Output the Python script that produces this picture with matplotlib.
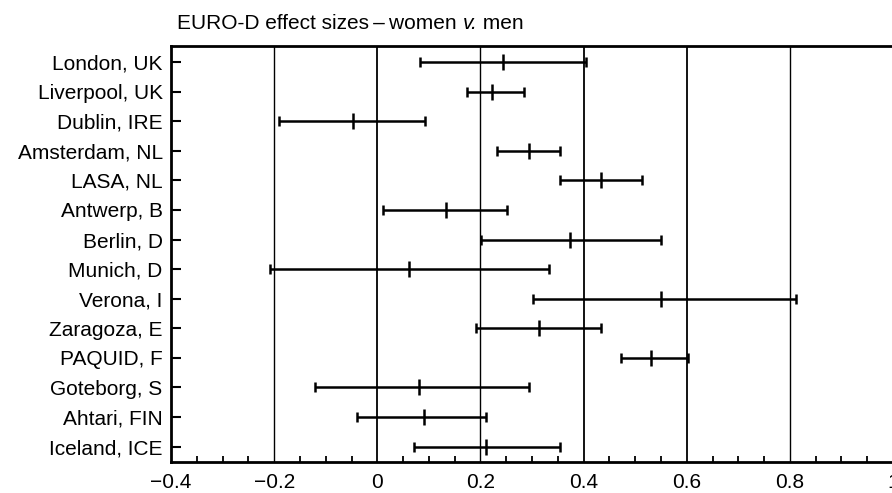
import numpy as np
import matplotlib
matplotlib.use("Agg")
import matplotlib.pyplot as plt
from matplotlib.ticker import MultipleLocator

plt.rcParams['font.family'] = ['Liberation Sans', 'DejaVu Sans']

# effect sizes (women v. men) with lower / upper confidence limits
centres = ['London, UK', 'Liverpool, UK', 'Dublin, IRE', 'Amsterdam, NL',
           'LASA, NL', 'Antwerp, B', 'Berlin, D', 'Munich, D', 'Verona, I',
           'Zaragoza, E', 'PAQUID, F', 'Goteborg, S', 'Ahtari, FIN',
           'Iceland, ICE']
effect = [0.244, 0.223, -0.047, 0.294, 0.434, 0.133, 0.373, 0.061, 0.551,
          0.313, 0.531, 0.081, 0.091, 0.210]
lower = [0.082, 0.173, -0.190, 0.232, 0.354, 0.012, 0.202, -0.209, 0.302,
         0.191, 0.472, -0.120, -0.039, 0.072]
upper = [0.404, 0.285, 0.092, 0.354, 0.513, 0.252, 0.551, 0.333, 0.812,
         0.433, 0.602, 0.294, 0.210, 0.354]

xticks = [-0.4, -0.2, 0, 0.2, 0.4, 0.6, 0.8, 1.0]
xticklabels = ['\u22120.4', '\u22120.2', '0', '0.2', '0.4', '0.6', '0.8', '1']

effect = np.array(effect)
err = np.array([effect - np.array(lower), np.array(upper) - effect])
ypos = np.arange(len(centres))

fig = plt.figure(figsize=(8.92, 4.93), dpi=100)
ax = fig.add_axes([171 / 892, 31 / 493, (893 - 171) / 892, (462 - 46) / 493])

for x in xticks[1:-1]:
    ax.axvline(x, color='black', lw=1.3 if x in (0, 0.4, 0.6) else 1.0, zorder=1)

ax.errorbar(effect, ypos, xerr=err, fmt='none', ecolor='black',
            elinewidth=1.8, capsize=3.3, capthick=1.8, zorder=3)
ax.plot(effect, ypos, linestyle='none', marker='|', markersize=12,
        markeredgewidth=1.8, color='black', zorder=4)

ax.set_xlim(-0.4, 1.0)
ax.set_ylim(len(centres) - 1 + 0.52, -0.54)
ax.set_yticks(ypos)
ax.set_yticklabels(centres, fontsize=15)
ax.set_xticks(xticks)
ax.set_xticklabels(xticklabels, fontsize=15)
ax.xaxis.set_minor_locator(MultipleLocator(0.05))
ax.tick_params(axis='y', direction='in', length=7, width=1.5, pad=6)
ax.tick_params(axis='x', which='major', direction='in', length=0, pad=8)
ax.tick_params(axis='x', which='minor', direction='in', length=4, width=1.3)

for side in ['left', 'bottom', 'top']:
    ax.spines[side].set_linewidth(2)
ax.spines['right'].set_visible(False)

# title in pieces so that "v." can be italic
renderer = fig.canvas.get_renderer()
x0, ty = 177, 493 - 29
for piece, style in [('EURO-D effect sizes\u2009\u2013\u2009women ', 'normal'),
                     ('v.', 'italic'), (' men', 'normal')]:
    t = fig.text(x0 / 892, ty / 493, piece, fontsize=15, fontstyle=style,
                 ha='left', va='baseline')
    x0 = t.get_window_extent(renderer).x1

fig.savefig('out.png', dpi=100)
